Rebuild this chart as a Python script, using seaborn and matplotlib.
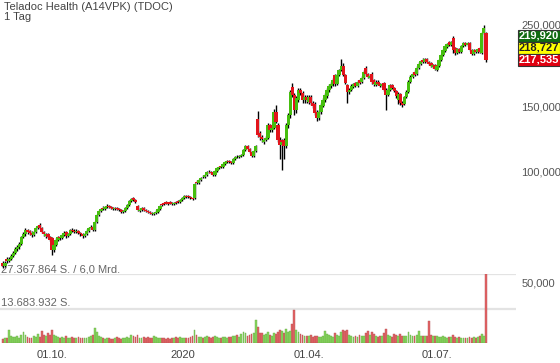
import numpy as np
import pandas as pd
import seaborn as sns
import matplotlib.pyplot as plt
from matplotlib.patches import Rectangle
from matplotlib.ticker import NullLocator

# --- STYLE ---
sns.set_theme(style="white")
plt.rcParams["font.family"] = ["Liberation Sans", "DejaVu Sans"]

# --- DATA (daily candles) ---
opens = [
    56.4, 55.5, 58.0, 57.2, 57.9, 59.0, 60.1, 61.6, 62.2, 63.6,
    66.4, 67.5, 69.4, 68.8, 68.1, 67.2, 68.5, 70.2, 71.6, 70.2,
    68.5, 66.8, 67.6, 66.4, 66.0, 61.2, 63.2, 65.2, 66.4, 66.0,
    67.2, 68.5, 66.8, 67.7, 69.4, 69.0, 68.5, 69.0, 68.1, 67.7,
    66.8, 67.7, 69.0, 70.2, 70.7, 69.4, 72.9, 76.2, 78.1, 79.6,
    79.3, 80.1, 80.6, 80.1, 79.6, 79.1, 79.6, 79.1, 78.6, 77.7,
    78.1, 79.6, 81.1, 83.2, 84.7, 83.7, 80.6, 78.2, 78.6, 79.6,
    78.6, 78.1, 77.7, 77.2, 76.7, 77.2, 77.7, 79.1, 81.4, 82.0,
    82.4, 82.2, 82.6, 82.2, 81.6, 82.4, 83.0, 82.7, 83.7, 84.7,
    85.8, 85.6, 85.2, 84.9, 84.7, 93.7, 93.1, 94.8, 96.8, 96.6,
    97.8, 99.9, 99.7, 99.1, 97.8, 100.3, 102.2, 103.2, 102.8, 104.8,
    106.1, 106.8, 106.1, 105.5, 108.1, 109.8, 109.5, 110.2, 110.9, 114.4,
    117.3, 115.1, 112.9, 110.2, 113.7, 138.9, 127.2, 124.1, 120.3, 121.8,
    123.3, 133.7, 129.6, 131.2, 145.1, 133.7, 121.8, 118.0, 121.8, 117.3,
    133.7, 142.4, 169.7, 161.3, 146.9, 156.4, 166.5, 163.3, 156.4, 159.3,
    154.5, 159.3, 153.5, 152.5, 145.1, 139.7, 145.1, 150.6, 156.4, 160.3,
    166.5, 170.7, 172.9, 182.8, 172.9, 182.8, 188.6, 193.4, 182.8, 171.8,
    164.4, 166.5, 169.7, 174.0, 170.7, 177.2, 175.0, 179.5, 191.0, 184.0,
    179.5, 184.0, 177.2, 171.8, 175.0, 172.9, 170.7, 174.0, 166.5, 161.3,
    166.5, 171.8, 168.6, 165.4, 156.4, 162.3, 153.5, 152.5, 159.3, 164.4,
    175.0, 180.6, 186.3, 184.0, 191.0, 195.8, 200.8, 198.3, 202.0, 198.3,
    197.0, 192.2, 194.6, 188.6, 193.4, 200.8, 207.2, 212.5, 217.9, 224.8,
    220.6, 230.5, 216.5, 209.8, 215.2, 211.2, 219.2, 223.4, 220.6, 223.4,
    213.8, 208.5, 213.8, 211.2, 216.5, 209.8, 237.8, 237.8,
]
closes = [
    55.4, 56.5, 57.2, 57.9, 59.0, 60.1, 61.6, 62.4, 63.6, 66.4,
    67.7, 69.4, 68.5, 68.1, 67.2, 68.5, 70.2, 71.1, 70.2, 68.5,
    67.7, 67.6, 66.4, 65.2, 61.2, 63.2, 65.2, 66.4, 66.0, 67.2,
    68.1, 66.8, 67.7, 69.4, 69.0, 68.5, 69.0, 68.1, 67.7, 66.8,
    67.7, 69.0, 70.2, 70.7, 69.4, 72.9, 76.2, 78.1, 79.1, 79.3,
    80.1, 80.6, 80.1, 79.6, 79.1, 79.6, 79.1, 78.6, 77.7, 78.1,
    79.6, 81.1, 83.2, 84.2, 83.7, 82.7, 78.6, 78.6, 79.6, 78.6,
    78.1, 77.7, 77.2, 76.7, 77.2, 77.7, 79.1, 80.6, 81.1, 81.6,
    82.2, 81.6, 82.2, 81.6, 82.2, 82.2, 82.7, 83.7, 84.7, 85.8,
    85.4, 85.2, 84.7, 84.2, 92.5, 93.1, 94.8, 96.0, 96.6, 97.8,
    99.7, 99.7, 99.1, 97.8, 100.3, 102.2, 102.8, 102.8, 104.8, 106.1,
    106.8, 106.1, 105.5, 108.1, 109.5, 109.5, 110.2, 110.9, 114.4, 117.3,
    115.1, 112.9, 110.2, 113.7, 117.3, 125.6, 124.1, 122.5, 121.8, 123.3,
    133.7, 129.6, 131.2, 145.1, 136.3, 121.8, 118.0, 120.3, 117.3, 133.7,
    142.4, 164.4, 161.3, 146.9, 158.4, 166.5, 163.3, 156.4, 159.3, 156.4,
    159.3, 153.5, 150.6, 144.2, 139.7, 145.1, 151.6, 156.4, 161.3, 166.5,
    170.7, 172.9, 177.2, 172.9, 182.8, 188.6, 193.4, 182.8, 174.0, 164.4,
    166.5, 170.7, 172.9, 170.7, 175.0, 174.0, 179.5, 186.3, 184.0, 180.6,
    181.7, 175.0, 172.9, 175.0, 172.9, 170.7, 172.9, 166.5, 161.3, 166.5,
    171.8, 168.6, 165.4, 160.3, 162.3, 153.5, 151.6, 159.3, 164.4, 175.0,
    180.6, 184.0, 182.8, 191.0, 195.8, 199.5, 198.3, 202.0, 198.3, 195.8,
    193.4, 194.6, 189.8, 193.4, 200.8, 207.2, 213.8, 219.2, 222.0, 220.6,
    224.8, 213.8, 209.8, 215.2, 211.2, 219.2, 223.4, 220.6, 223.4, 213.8,
    208.5, 213.8, 211.2, 215.2, 211.2, 237.8, 245.6, 200.8,
]
highs = [
    57.0, 57.2, 58.6, 58.5, 59.6, 60.8, 62.2, 63.2, 64.4, 67.0,
    68.4, 70.2, 70.0, 69.5, 68.8, 69.0, 70.8, 71.8, 72.4, 70.8,
    69.0, 68.2, 68.0, 66.8, 66.6, 63.8, 65.8, 67.0, 67.0, 67.8,
    68.8, 69.0, 68.2, 70.0, 70.2, 69.6, 69.6, 69.5, 68.6, 68.2,
    68.2, 69.6, 70.8, 71.4, 71.2, 73.4, 76.8, 78.8, 79.8, 80.4,
    80.8, 81.4, 81.2, 80.8, 80.2, 80.2, 80.2, 79.6, 79.2, 78.8,
    80.2, 81.8, 83.8, 85.0, 85.4, 84.2, 81.2, 79.4, 80.2, 80.0,
    79.2, 78.6, 78.2, 77.8, 77.8, 78.4, 79.8, 81.2, 82.0, 82.6,
    83.0, 82.8, 83.2, 82.8, 82.8, 83.0, 83.6, 84.2, 85.4, 86.4,
    86.4, 86.2, 85.8, 85.4, 93.2, 94.6, 95.6, 96.8, 97.6, 98.6,
    100.4, 100.8, 100.4, 99.8, 101.0, 102.8, 103.6, 103.8, 105.6, 106.8,
    107.6, 107.4, 106.8, 108.8, 110.2, 110.6, 111.0, 111.6, 115.2, 118.2,
    118.0, 115.8, 113.6, 114.4, 118.2, 146.0, 128.6, 125.6, 123.0, 124.6,
    135.0, 134.6, 132.6, 147.8, 151.6, 135.0, 124.0, 122.5, 123.3, 135.0,
    144.2, 166.5, 174.0, 163.3, 160.3, 168.6, 168.6, 165.4, 161.3, 161.3,
    161.3, 161.3, 155.4, 154.5, 146.9, 146.9, 153.5, 158.4, 163.3, 168.6,
    172.9, 175.0, 179.5, 184.0, 184.0, 190.0, 202.0, 197.0, 184.0, 173.0,
    168.6, 172.9, 174.0, 175.0, 177.2, 178.4, 181.7, 188.6, 193.4, 185.2,
    183.8, 186.3, 178.4, 177.2, 177.2, 174.0, 174.0, 175.0, 168.6, 168.6,
    172.9, 172.9, 169.7, 166.5, 164.4, 163.3, 155.4, 160.3, 166.5, 177.2,
    182.8, 186.3, 188.6, 193.4, 198.3, 201.0, 203.3, 203.3, 203.3, 199.5,
    198.3, 195.8, 195.8, 194.6, 202.0, 208.5, 215.2, 220.6, 223.4, 226.2,
    226.2, 233.3, 217.9, 216.5, 216.5, 220.6, 224.8, 224.8, 224.8, 224.8,
    215.2, 215.2, 215.2, 216.5, 217.9, 239.3, 250.0, 239.3,
]
lows = [
    54.8, 55.0, 56.6, 56.8, 57.5, 58.6, 59.8, 61.0, 61.8, 63.2,
    65.8, 67.0, 67.8, 67.2, 66.4, 66.8, 68.0, 69.6, 69.8, 68.0,
    67.0, 66.2, 65.8, 64.6, 59.3, 60.6, 62.8, 64.8, 65.2, 65.6,
    66.8, 66.2, 66.4, 67.2, 68.4, 68.0, 68.0, 67.6, 67.0, 66.2,
    66.4, 67.4, 68.6, 69.8, 69.0, 69.0, 72.4, 75.6, 77.6, 78.6,
    78.8, 79.6, 79.4, 79.0, 78.4, 78.6, 78.4, 78.0, 77.0, 77.2,
    77.6, 79.2, 80.6, 82.8, 83.2, 82.2, 78.0, 77.6, 78.0, 78.0,
    77.6, 77.0, 76.6, 76.0, 76.2, 76.8, 77.2, 78.6, 80.4, 81.0,
    81.6, 81.0, 81.6, 81.0, 81.2, 81.6, 82.0, 82.2, 83.2, 84.2,
    84.8, 84.6, 84.0, 83.6, 84.2, 92.4, 92.6, 94.2, 95.8, 96.0,
    97.2, 99.0, 98.4, 97.2, 97.4, 99.8, 101.6, 102.0, 102.2, 104.2,
    105.6, 105.4, 104.8, 105.0, 107.6, 108.8, 109.0, 109.6, 110.4, 113.8,
    114.4, 112.2, 109.6, 109.6, 113.2, 124.0, 121.8, 120.3, 118.8, 120.8,
    122.5, 128.2, 128.2, 130.4, 135.0, 120.3, 108.0, 100.9, 108.0, 115.8,
    131.2, 140.0, 159.3, 142.4, 144.2, 154.5, 161.3, 153.5, 153.5, 153.5,
    152.5, 151.6, 148.8, 142.4, 137.2, 138.0, 143.3, 149.7, 154.5, 158.4,
    164.4, 168.6, 170.7, 170.7, 171.8, 181.7, 187.4, 181.7, 172.9, 153.5,
    162.3, 165.4, 168.6, 169.7, 169.7, 172.9, 174.0, 178.4, 182.8, 179.5,
    178.4, 172.9, 170.7, 170.7, 171.8, 169.7, 169.7, 165.4, 146.9, 160.3,
    165.4, 167.5, 164.4, 158.4, 152.5, 151.6, 149.7, 151.6, 158.4, 163.3,
    174.0, 179.5, 181.7, 182.8, 189.8, 194.6, 197.0, 197.0, 197.0, 194.6,
    192.2, 191.0, 188.6, 187.4, 192.2, 199.5, 205.9, 211.2, 216.5, 219.2,
    219.2, 209.8, 207.2, 208.5, 209.8, 209.8, 217.9, 219.2, 219.2, 212.5,
    207.2, 207.2, 209.8, 209.8, 209.8, 208.5, 236.3, 198.3,
]
# volume in millions of shares
volumes = [
    1.6, 2.1, 1.8, 5.0, 2.7, 2.2, 2.4, 2.8, 2.1, 3.0,
    4.2, 3.3, 2.4, 2.1, 2.0, 2.7, 2.2, 3.6, 2.4, 4.6,
    3.0, 2.6, 3.8, 3.0, 5.0, 3.3, 2.7, 2.2, 2.0, 2.4,
    2.1, 2.7, 2.0, 1.8, 2.2, 2.1, 1.8, 2.4, 2.0, 1.8,
    2.0, 1.8, 2.2, 2.6, 3.3, 6.0, 4.5, 2.7, 2.2, 1.8,
    1.5, 1.8, 2.1, 1.6, 1.5, 1.8, 2.2, 2.0, 1.6, 1.8,
    2.1, 2.4, 2.0, 3.0, 2.7, 2.2, 3.3, 2.1, 1.8, 2.2,
    2.0, 2.4, 2.1, 1.8, 2.7, 2.2, 2.0, 1.8, 2.1, 2.0,
    1.6, 1.8, 1.5, 2.0, 1.8, 2.2, 2.1, 2.4, 2.0, 2.1,
    1.8, 2.0, 2.2, 2.7, 5.2, 3.3, 2.4, 2.2, 2.1, 2.4,
    2.6, 2.2, 2.0, 2.4, 2.7, 2.2, 2.1, 1.8, 2.4, 2.2,
    2.1, 2.4, 2.2, 2.7, 2.6, 3.0, 2.4, 3.6, 4.2, 3.8,
    2.8, 3.2, 3.4, 3.8, 9.0, 6.4, 3.8, 4.0, 3.0, 3.4,
    4.4, 3.2, 2.8, 4.0, 3.6, 4.2, 5.0, 4.6, 3.8, 5.4,
    4.2, 4.8, 7.5, 13.0, 5.0, 4.2, 3.6, 3.0, 2.8, 2.6,
    2.8, 3.0, 2.4, 2.8, 2.6, 2.4, 2.4, 2.6, 4.8, 3.4,
    3.2, 2.6, 2.4, 3.8, 3.0, 2.8, 4.4, 5.2, 4.6, 5.2,
    3.0, 2.6, 2.4, 2.6, 2.2, 3.0, 2.6, 2.8, 4.0, 4.8,
    3.0, 4.2, 3.4, 2.6, 2.4, 2.8, 2.6, 3.8, 5.6, 3.2,
    2.6, 2.4, 3.4, 3.0, 2.6, 3.6, 2.6, 2.8, 2.6, 4.4,
    3.2, 2.6, 2.8, 3.2, 4.6, 2.8, 2.6, 2.6, 2.6, 8.8,
    3.0, 2.6, 2.6, 2.8, 2.4, 2.4, 2.6, 2.2, 2.0, 2.2,
    2.2, 3.2, 2.4, 2.0, 2.2, 1.8, 2.0, 1.8, 2.0, 2.2,
    2.0, 2.2, 1.8, 2.2, 2.8, 3.6, 2.6, 27.367864,
]
first_day = -24                      # trading days before 01.10.2019
tick_days = [0, 64, 126, 189]
tick_labels = ["01.10.", "2020", "01.04.", "01.07."]
price_ticks = [50, 100, 150, 250]
price_tick_labels = ["50,000", "100,000", "150,000", "250,000"]
quote_labels = ["219,920", "218,727", "217,535"]
vol_max = 27.367864

# --- FRAME ---
df = pd.DataFrame({"open": opens, "high": highs, "low": lows,
                   "close": closes, "volume": volumes})
df["day"] = np.arange(first_day, first_day + len(df))
df["dir"] = np.where(df["close"] >= df["open"], "up", "down")

GREEN, RED = "#46be0f", "#e2141c"
VGREEN, VRED = "#86d65c", "#e46466"

W, H = 560, 363
fig = plt.figure(figsize=(W / 100, H / 100), dpi=100)
ax = fig.add_axes([0, 20 / H, 516 / W, 343 / H])
axv = fig.add_axes([0, 20 / H, 516 / W, 69 / H])
axv.set_facecolor("none")
xlim = (-25.5, 227.8)

# --- CANDLES ---
body_lo = df[["open", "close"]].min(axis=1)
body_hi = df[["open", "close"]].max(axis=1)
ax.vlines(df["day"], df["low"], df["high"], color="black", lw=1.0, zorder=3)
ax.bar(df["day"], body_hi - body_lo, bottom=body_lo, width=1.65,
       color=[GREEN if d == "up" else RED for d in df["dir"]],
       linewidth=0, zorder=4)
ax.set_yscale("log")
ax.set_ylim(34.24, 292.1)
ax.set_xlim(*xlim)
ax.yaxis.tick_right()
ax.set_yticks(price_ticks)
ax.set_yticklabels(price_tick_labels)
ax.yaxis.set_minor_locator(NullLocator())
ax.tick_params(axis="y", length=0, pad=4, labelsize=8, labelcolor="#555555")
ax.set_xticks([])
sns.despine(ax=ax, left=True, bottom=True, right=True, top=True)

# --- VOLUME ---
sns.barplot(data=df, x="day", y="volume", hue="dir", native_scale=True,
            palette={"up": VGREEN, "down": VRED}, dodge=False, width=0.9,
            errorbar=None, saturation=1, legend=False, ax=axv, zorder=2)
for p in axv.patches:
    fc = p.get_facecolor()
    p.set_edgecolor((fc[0] * 0.8, fc[1] * 0.8, fc[2] * 0.8, 1))
    p.set_linewidth(0.3)
for lvl in (vol_max / 2, vol_max):
    axv.axhline(lvl, color="#e3e3e3", lw=1.6, zorder=0)
axv.set_xlim(*xlim)
axv.set_ylim(0, vol_max)
axv.set_yticks([])
axv.set_xticks(tick_days)
axv.set_xticklabels(tick_labels)
axv.set_xlabel("")
axv.set_ylabel("")
axv.tick_params(axis="x", length=0, pad=5, labelsize=8, labelcolor="#444444")
sns.despine(ax=axv, left=True, bottom=True, right=True, top=True)

# --- TEXTS ---
fig.text(4 / W, 1 - 7 / H, "Teladoc Health (A14VPK) (TDOC)", fontsize=8,
         color="#444444", va="center", ha="left")
fig.text(4 / W, 1 - 17 / H, "1 Tag", fontsize=8, color="#444444",
         va="center", ha="left")
ax.text(1 / W, 1 - 269 / H, "27.367.864 S. / 6,0 Mrd.", fontsize=8,
        color="#666666", va="center", ha="left", transform=fig.transFigure,
        zorder=1)
ax.text(1 / W, 1 - 303 / H, "13.683.932 S.", fontsize=8, color="#666666",
        va="center", ha="left", transform=fig.transFigure, zorder=1)

box_style = [("#116b11", "white"), ("#ffff00", "#222222"), ("#e00010", "white")]
for k, (lab, (fc, tc)) in enumerate(zip(quote_labels, box_style)):
    top = 30 + 12 * k
    fig.patches.append(Rectangle((518 / W, 1 - (top + 12) / H), 42 / W, 12 / H,
                                 transform=fig.transFigure, facecolor=fc,
                                 edgecolor="#333333", lw=0.8))
    fig.text(539 / W, 1 - (top + 6) / H, lab, fontsize=8, color=tc,
             fontweight="bold", ha="center", va="center")

fig.savefig("out.png", dpi=100)
